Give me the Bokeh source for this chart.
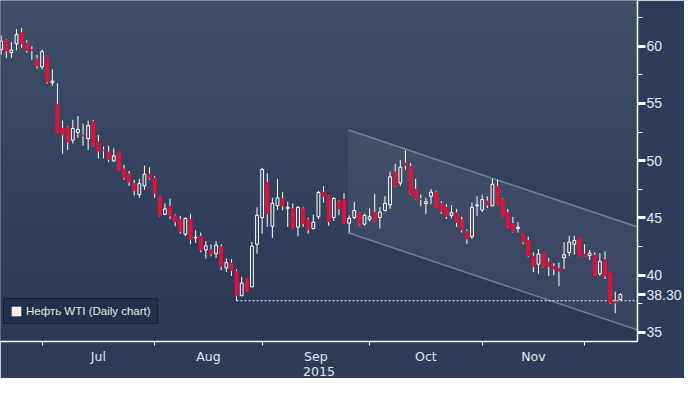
from bokeh.plotting import figure
from bokeh.models import (FixedTicker, Range1d, Legend, LegendItem,
                          ColumnDataSource)
from bokeh.embed import file_html
from bokeh.resources import INLINE

# ---- data (WTI daily candles, 19 Jun 2015 - 10 Dec 2015, trading-day index) ----
opens = [59.72, 60.55, 59.45, 60.22, 61.18, 60.27, 59.69, 58.89, 58.20, 59.03,
         56.82, 54.89, 52.82, 52.91, 51.80, 52.47, 52.22, 51.94, 53.43, 51.64,
         50.92, 50.75, 49.98, 50.75, 49.26, 48.82, 48.00, 47.03, 47.80, 48.82,
         48.49, 46.84, 45.31, 45.98, 45.18, 44.85, 43.58, 44.88, 43.25, 43.39,
         42.20, 42.20, 41.87, 42.47, 40.63, 41.04, 40.32, 38.20, 39.72, 38.97,
         42.70, 45.02, 48.08, 44.27, 46.06, 46.67, 45.84, 45.79, 44.19, 45.79,
         44.82, 44.07, 45.10, 47.22, 46.97, 45.04, 46.47, 46.61, 44.54, 45.04,
         45.46, 44.46, 44.88, 45.46, 45.04, 45.65, 46.14, 49.01, 48.05, 49.78,
         49.51, 47.50, 46.67, 46.26, 46.89, 47.25, 46.28, 45.93, 45.23, 45.43,
         44.82, 43.80, 43.36, 46.06, 45.70, 46.47, 46.06, 47.77, 46.61, 45.46,
         44.49, 44.07, 43.63, 43.03, 41.65, 40.96, 41.98, 41.15, 40.74, 40.55,
         41.51, 41.98, 42.70, 43.30, 41.84, 41.71, 41.73, 40.13, 41.32, 40.18,
         37.65, 37.86]
highs = [60.94, 60.63, 60.36, 61.51, 61.60, 60.52, 60.00, 59.25, 59.72, 59.03,
         57.98, 56.77, 53.51, 53.01, 53.57, 53.90, 53.24, 53.51, 53.57, 52.24,
         51.25, 51.31, 51.08, 50.75, 49.65, 49.10, 48.33, 48.41, 49.59, 49.43,
         48.68, 46.86, 46.28, 46.67, 45.31, 45.18, 45.04, 45.37, 43.91, 43.72,
         42.97, 42.70, 42.97, 42.70, 41.46, 41.42, 40.49, 39.85, 39.74, 42.89,
         45.93, 49.37, 48.91, 46.76, 48.41, 47.25, 46.42, 46.26, 46.01, 45.93,
         45.02, 45.29, 47.36, 47.77, 46.97, 46.80, 46.56, 47.17, 45.23, 46.42,
         45.51, 45.37, 45.84, 47.11, 45.93, 46.89, 49.04, 49.74, 50.07, 50.89,
         49.78, 48.41, 47.03, 46.76, 47.52, 47.38, 46.47, 46.20, 46.12, 45.79,
         45.10, 43.99, 46.34, 46.89, 47.03, 46.89, 48.41, 48.33, 46.70, 45.79,
         45.10, 44.63, 43.63, 43.36, 41.98, 42.28, 41.98, 41.51, 41.04, 41.09,
         42.89, 43.44, 43.44, 43.30, 42.70, 42.20, 42.00, 41.92, 42.06, 40.18,
         38.56, 38.42]
lows = [59.28, 58.97, 58.97, 59.64, 59.86, 59.45, 58.81, 58.06, 57.98, 56.74,
        56.55, 52.41, 50.61, 50.94, 51.50, 52.00, 51.31, 50.94, 51.23, 50.20,
        50.20, 49.87, 49.87, 49.10, 48.33, 47.80, 46.97, 46.76, 47.44, 48.35,
        46.76, 45.12, 45.23, 44.90, 44.27, 43.63, 43.39, 42.70, 42.81, 42.00,
        41.46, 41.65, 41.51, 40.41, 40.27, 39.93, 37.76, 38.17, 38.58, 38.97,
        41.87, 43.63, 44.21, 43.25, 45.70, 45.65, 44.21, 44.07, 43.39, 44.21,
        43.63, 43.99, 44.90, 46.34, 44.32, 44.74, 45.23, 44.49, 43.72, 44.88,
        44.32, 44.32, 44.69, 44.69, 44.07, 45.56, 45.79, 47.72, 47.80, 49.18,
        47.03, 46.61, 46.01, 45.31, 46.20, 45.87, 45.37, 44.90, 44.96, 44.21,
        43.72, 42.70, 43.16, 45.18, 45.51, 45.87, 46.01, 46.14, 45.10, 44.13,
        43.72, 43.72, 42.70, 41.59, 40.27, 40.13, 40.68, 39.93, 39.99, 39.02,
        40.55, 41.65, 41.79, 41.65, 41.59, 41.32, 39.93, 39.93, 39.66, 37.51,
        36.68, 37.80]
closes = [60.46, 59.59, 59.67, 61.02, 60.22, 59.64, 59.64, 58.29, 59.53, 56.90,
          56.96, 52.47, 52.27, 51.64, 52.82, 52.74, 52.16, 53.07, 51.31, 50.84,
          50.86, 50.12, 50.42, 49.16, 48.49, 48.13, 47.38, 48.00, 48.82, 48.49,
          47.17, 45.18, 45.79, 45.18, 44.69, 43.80, 44.96, 43.11, 43.30, 42.20,
          42.56, 41.84, 42.62, 40.76, 41.09, 40.41, 38.20, 39.30, 38.61, 42.53,
          45.23, 49.24, 45.37, 46.28, 46.76, 46.06, 45.93, 44.13, 45.93, 44.54,
          43.99, 44.63, 47.22, 46.89, 44.69, 46.70, 45.79, 44.49, 44.96, 45.65,
          44.40, 45.23, 45.10, 44.74, 45.51, 46.28, 48.60, 47.80, 49.43, 49.59,
          47.09, 46.67, 46.61, 46.42, 47.25, 45.93, 45.56, 45.15, 45.46, 44.63,
          43.99, 43.16, 45.93, 46.12, 46.61, 46.14, 47.94, 46.20, 45.15, 44.21,
          43.80, 44.19, 42.89, 41.71, 40.76, 41.84, 40.74, 40.76, 40.55, 40.35,
          41.79, 42.89, 43.03, 41.71, 41.65, 41.92, 39.93, 41.18, 39.93, 37.59,
          37.57, 38.30]

month_labels = ["Jul", "Aug", "Sep", "Oct", "Nov"]
month_label_pos = [19, 40.5, 61.5, 83, 104]
month_starts = [8, 30, 51, 72, 94, 114]
year_label = "2015"

y_ticks = [35, 40, 45, 50, 55, 60]
y_minor = [32.5, 37.5, 42.5, 47.5, 52.5, 57.5, 62.5]

support_level = 37.76
support_start = 46
channel_x = [67.8, 124.4]
channel_upper = [52.7, 44.2]
channel_lower = [43.7, 35.2]

series_name = "Нефть WTI (Daily chart)"
last_price = closes[-1]

# ---- styles ----
RED = "#dc143c"
WHITE = "#ffffff"
GRID = "#4f6a88"
TXT = "#e2e8f0"
TOP = (63, 78, 105)
BOT = (43, 56, 86)

x0, x1 = -0.13, 124.35
y0, y1 = 34.2, 64.0

p = figure(width=684, height=378, output_backend="svg", toolbar_location=None,
           x_range=Range1d(x0, x1), y_range=Range1d(y0, y1),
           y_axis_location="right", min_border=0)
p.background_fill_color = "#36445f"
p.border_fill_color = "#2e3c59"
p.outline_line_color = None

# background vertical gradient (bands)
nb = 24
bt, bb, bc = [], [], []
for i in range(nb):
    t = i / (nb - 1)
    r = int(TOP[0] + (BOT[0] - TOP[0]) * t)
    g = int(TOP[1] + (BOT[1] - TOP[1]) * t)
    b = int(TOP[2] + (BOT[2] - TOP[2]) * t)
    hi = y1 - (y1 - y0) * i / nb
    lo = y1 - (y1 - y0) * (i + 1) / nb
    bt.append(hi + 0.01)
    bb.append(lo)
    bc.append("#%02x%02x%02x" % (r, g, b))
p.quad(left=x0 - 1, right=x1 + 1, top=bt, bottom=bb, fill_color=bc, line_color=None)

# grid
p.xgrid.ticker = FixedTicker(ticks=month_starts)
p.ygrid.ticker = FixedTicker(ticks=y_ticks)
for g in (p.xgrid, p.ygrid):
    g.grid_line_color = GRID
    g.grid_line_dash = "2 3"
    g.grid_line_width = 1
    g.level = "underlay"

# channel
p.patch(x=[channel_x[0], channel_x[1], channel_x[1], channel_x[0]],
        y=[channel_upper[0], channel_upper[1], channel_lower[1], channel_lower[0]],
        fill_color="white", fill_alpha=0.06, line_color=None)
p.line(channel_x, channel_upper, line_color="#9aa6bb", line_alpha=0.6, line_width=1.5)
p.line(channel_x, channel_lower, line_color="#9aa6bb", line_alpha=0.6, line_width=1.5)

# support line
p.line([support_start, x1], [support_level, support_level], line_color="white",
       line_dash="2 2", line_width=1.2)

# candles
n = len(closes)
idx = list(range(n))
btop = [max(o, c) for o, c in zip(opens, closes)]
bbot = [min(o, c) for o, c in zip(opens, closes)]
p.segment(x0=idx, y0=highs, x1=idx, y1=btop, line_color=WHITE, line_width=1)
p.segment(x0=idx, y0=bbot, x1=idx, y1=lows, line_color=WHITE, line_width=1)

up = [i for i in idx if closes[i] >= opens[i]]
dn = [i for i in idx if closes[i] < opens[i]]
up_src = ColumnDataSource(dict(x=up, top=[btop[i] for i in up], bottom=[bbot[i] for i in up]))
dn_src = ColumnDataSource(dict(x=dn, top=[btop[i] for i in dn], bottom=[bbot[i] for i in dn]))
p.vbar(x="x", top="top", bottom="bottom", width=0.55, source=up_src,
       fill_alpha=0, line_color=WHITE, line_width=1)
p.vbar(x="x", top="top", bottom="bottom", width=0.6, source=dn_src,
       fill_color=RED, line_color=RED, line_width=1)

# legend (swatch renderer placed outside the visible range)
swatch = p.quad(left=[x0 - 60], right=[x0 - 50], top=[y0 - 50], bottom=[y0 - 60],
                fill_color="#fff2f0", line_color=None)
leg = Legend(items=[LegendItem(label=series_name, renderers=[swatch])],
             location=(3, 17), glyph_width=12, glyph_height=12,
             label_text_font="Liberation Sans", label_text_font_size="11.5px",
             label_text_color=TXT, label_standoff=4, padding=6, margin=0,
             label_height=12,
             background_fill_color="#243049", background_fill_alpha=1,
             border_line_color="#0b101c", border_line_width=1.2)
p.add_layout(leg)

# axes
xa = p.xaxis[0]
xa.ticker = FixedTicker(ticks=month_label_pos, minor_ticks=month_starts)
xa.major_label_overrides = {pos: lab for pos, lab in zip(month_label_pos, month_labels)}
xa.major_tick_out = 0
xa.major_tick_in = 0
xa.minor_tick_out = 4
xa.minor_tick_in = 0
xa.minor_tick_line_color = WHITE
xa.axis_line_color = WHITE
xa.axis_line_width = 1.5
xa.major_label_text_color = TXT
xa.major_label_text_font = "DejaVu Sans"
xa.major_label_text_font_size = "12.5px"
xa.major_label_standoff = 3
xa.axis_label = year_label
xa.axis_label_standoff = 0
xa.axis_label_text_color = TXT
xa.axis_label_text_font = "DejaVu Sans"
xa.axis_label_text_font_size = "12.5px"
xa.axis_label_text_font_style = "normal"

ya = p.yaxis[0]
ya.ticker = FixedTicker(ticks=y_ticks + [last_price], minor_ticks=y_minor)
ya.major_label_overrides = {last_price: "%.2f" % last_price}
ya.major_tick_out = 8
ya.major_tick_in = 0
ya.major_tick_line_width = 3
ya.major_tick_line_color = WHITE
ya.minor_tick_out = 5
ya.minor_tick_in = 0
ya.minor_tick_line_color = WHITE
ya.axis_line_color = WHITE
ya.axis_line_width = 1.5
ya.major_label_text_color = TXT
ya.major_label_text_font = "Liberation Sans"
ya.major_label_text_font_size = "14px"
ya.major_label_standoff = 1

open("out.html", "w").write(file_html(p, INLINE))
